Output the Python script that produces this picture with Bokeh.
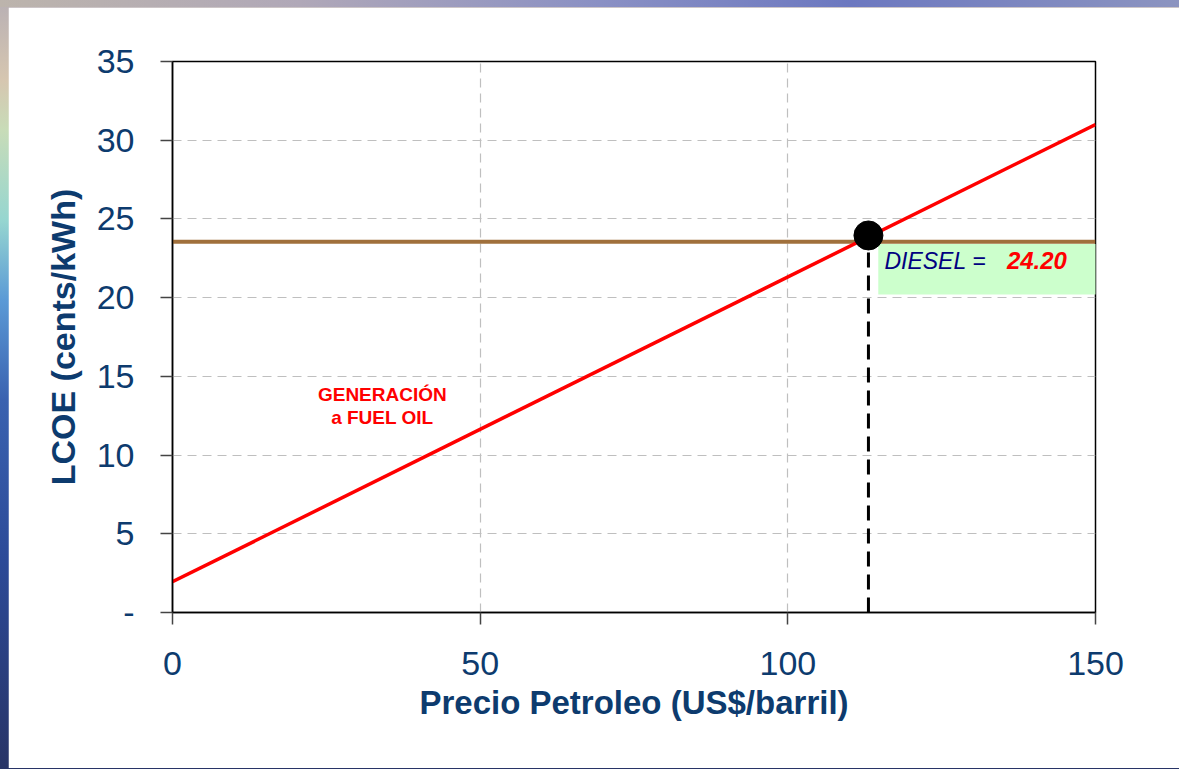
from bokeh.plotting import figure
from bokeh.models import Range1d, FixedTicker
from bokeh.core.properties import value
from bokeh.embed import file_html
from bokeh.resources import INLINE

# ---- data ----
oil_price = [0, 150]                 # US$/barril
lcoe_fuel_oil = [1.95, 31.0]         # cents/kWh
diesel_lcoe = 23.55                  # horizontal diesel line
diesel_label = "24.20"
cross_x = 113.1
cross_y = 23.95
x_ticks = [0, 50, 100, 150]
y_ticks = [0, 5, 10, 15, 20, 25, 30, 35]

NAVY = "#0d3b6e"

p = figure(width=1171, height=761, output_backend="svg", toolbar_location=None,
           x_range=Range1d(0, 150), y_range=Range1d(0, 35),
           min_border_left=164, min_border_top=54, min_border_right=84,
           min_border_bottom=156)
p.background_fill_color = "white"
p.border_fill_color = "white"
p.outline_line_color = "black"
p.outline_line_width = 1.5

# grid
for g in (p.xgrid, p.ygrid):
    g.grid_line_color = "#bfbfbf"
    g.grid_line_dash = "9 6"
    g.grid_line_width = 1.2
p.xgrid.ticker = FixedTicker(ticks=[50, 100])
p.ygrid.ticker = FixedTicker(ticks=[5, 10, 15, 20, 25, 30])

# axes
p.xaxis.ticker = FixedTicker(ticks=x_ticks)
p.yaxis.ticker = FixedTicker(ticks=y_ticks)
p.yaxis.major_label_overrides = {0: "-"}
for ax in (p.xaxis[0], p.yaxis[0]):
    ax.axis_line_color = "black"
    ax.axis_line_width = 1.5
    ax.major_tick_line_color = "#444444"
    ax.major_tick_line_width = 1.5
    ax.major_tick_out = 12
    ax.major_tick_in = 0
    ax.minor_tick_line_color = None
    ax.major_label_text_color = NAVY
    ax.major_label_text_font = "Liberation Sans"
    ax.major_label_text_font_size = "34px"
    ax.axis_label_text_color = NAVY
    ax.axis_label_text_font = "Liberation Sans"
    ax.axis_label_text_font_style = "bold"
p.yaxis.major_label_standoff = 26
p.xaxis.major_label_standoff = 27
p.xaxis.axis_label = "Precio Petroleo (US$/barril)"
p.yaxis.axis_label = "LCOE (cents/kWh)"
p.xaxis.axis_label_text_font_size = "33px"
p.yaxis.axis_label_text_font_size = "34px"
p.xaxis.axis_label_standoff = 6
p.yaxis.axis_label_standoff = 12

# green box behind diesel label
p.quad(left=[114.7], right=[150.6], bottom=[20.2], top=[23.4],
       fill_color="#ccffcc", line_color=None)

# diesel horizontal line
p.line(x=oil_price, y=[diesel_lcoe, diesel_lcoe], line_color="#a0703c", line_width=4)

# fuel oil generation line
p.line(x=oil_price, y=lcoe_fuel_oil, line_color="#ff0000", line_width=3.5)

# dashed vertical from intersection
p.line(x=[cross_x, cross_x], y=[0, cross_y], line_color="black", line_width=3,
       line_dash="15 8")
p.scatter(x=[cross_x], y=[cross_y], size=29, fill_color="black", line_color="black")

# labels
p.text(x=[115.7], y=[22.35], text=["DIESEL ="], text_color="#000080",
       text_font=value("Liberation Sans"), text_font_style="italic",
       text_font_size="23px", text_baseline="middle", text_align="left")
p.text(x=[135.6], y=[22.35], text=[diesel_label], text_color="#ff0000",
       text_font=value("Liberation Sans"), text_font_style="bold italic",
       text_font_size="24px", text_baseline="middle", text_align="left")
p.text(x=[34.1, 34.1], y=[13.85, 12.39], text=["GENERACIÓN", "a FUEL OIL"],
       text_color="#ff0000", text_font=value("Liberation Sans"),
       text_font_style="bold", text_font_size="19px",
       text_baseline="middle", text_align="center")

style = """{% block preamble %}<style>
html, body { overflow: hidden; }
body { margin: 0 !important; padding: 7px 0 0 8px !important;
  background:
    linear-gradient(to right, #bcb4ac 0px, #b0a8b8 300px, #8a90c4 600px, #6c78c0 850px, #8c94c0 1179px) top left / 100% 7px no-repeat,
    linear-gradient(to bottom, #b8b0b4 0px, #d6c6b0 80px, #c8dcb8 130px,
    #96d6d0 220px, #5b9ad6 300px, #3a62b0 400px, #2c4a98 560px, #283466 769px) no-repeat;
  background-color: #283466; }
</style>{% endblock %}"""

open("out.html", "w").write(file_html(p, INLINE, template=style))
